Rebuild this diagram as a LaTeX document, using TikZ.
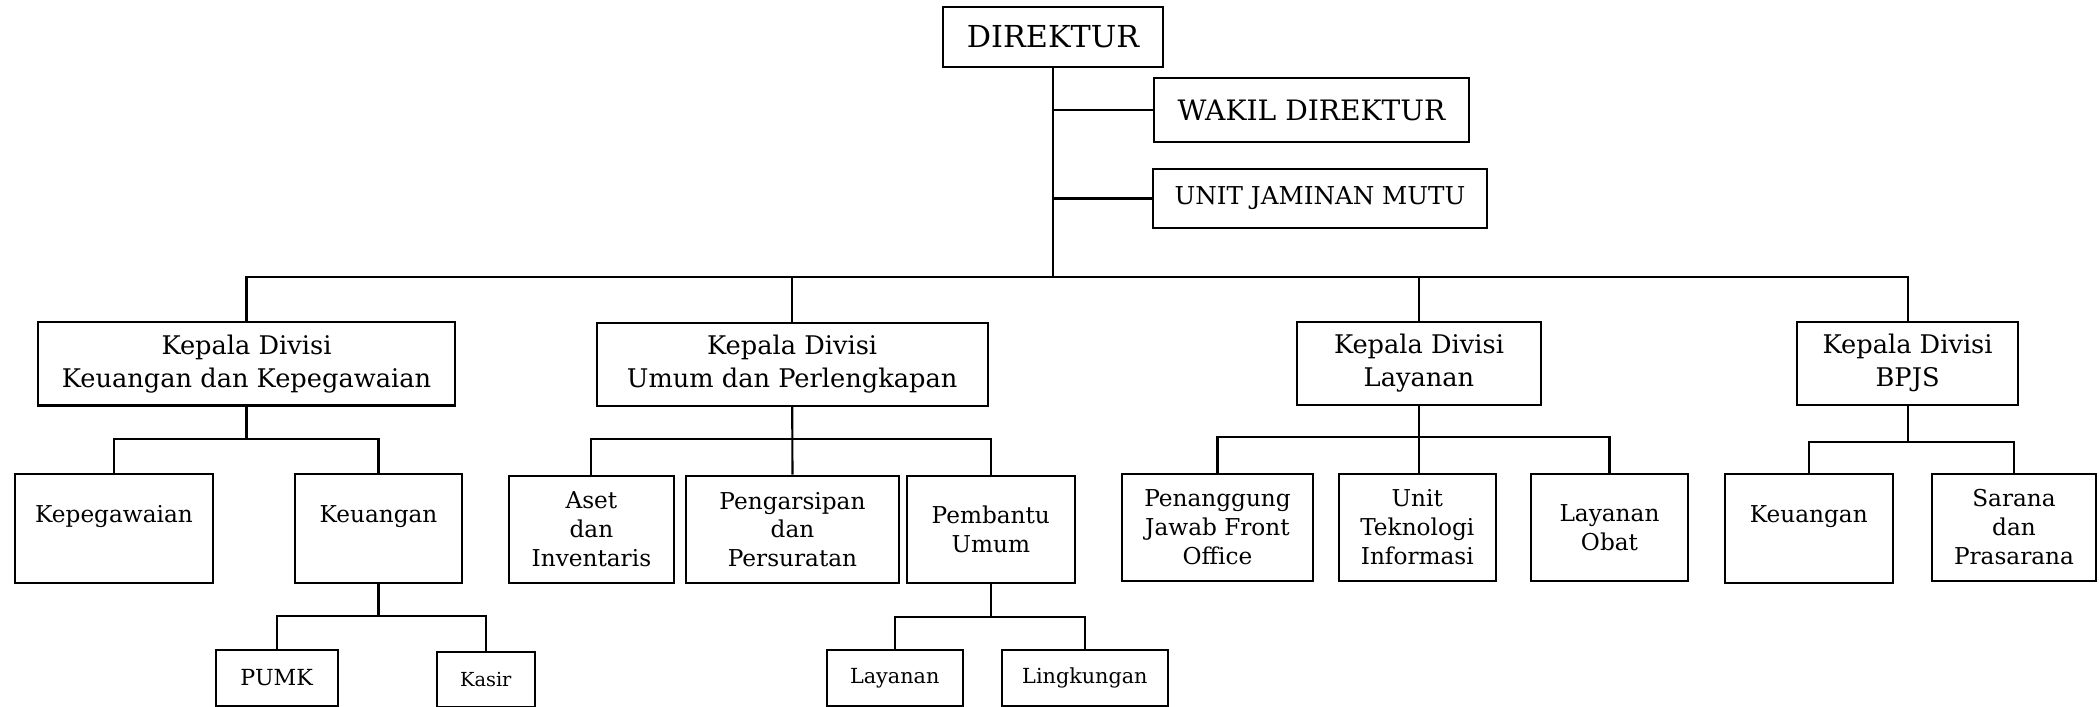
\documentclass[tikz,border=0pt]{standalone}
\usepackage{fontspec}
\setmainfont{DejaVu Serif}
\begin{document}
\begin{tikzpicture}[x=0.01cm,y=-0.01cm,
  box/.style={draw, line width=0.6pt, inner sep=0pt, align=center},
  ftop/.style={font=\fontsize{8.6}{10}\selectfont},
  fwak/.style={font=\fontsize{8.0}{9}\selectfont},
  fsub/.style={font=\fontsize{7.0}{8}\selectfont},
  fdiv/.style={font=\fontsize{7.3}{9.4}\selectfont},
  flev/.style={font=\fontsize{6.6}{8.2}\selectfont},
  fsml/.style={font=\fontsize{5.9}{7}\selectfont},
  conn/.style={line width=0.6pt}]
\useasboundingbox (0,0) rectangle (2099,707);
% top
\node[box,ftop,minimum width=2.20cm,minimum height=0.594cm] (dir) at (1053,37) {DIREKTUR};
\node[box,fwak,minimum width=3.15cm,minimum height=0.64cm] (wakil) at (1311.5,110) {WAKIL DIREKTUR};
\node[box,fsub,minimum width=3.34cm,minimum height=0.59cm] (ujm) at (1320,198.5) {UNIT JAMINAN MUTU};
% divisions
\node[box,fdiv,minimum width=4.17cm,minimum height=0.835cm] (div1) at (246.5,363.7) {Kepala Divisi\\Keuangan dan Kepegawaian};
\node[box,fdiv,minimum width=3.91cm,minimum height=0.833cm] (div2) at (792.2,364.3) {Kepala Divisi\\Umum dan Perlengkapan};
\node[box,fdiv,minimum width=2.44cm,minimum height=0.833cm] (div3) at (1419,363.3) {Kepala Divisi\\Layanan};
\node[box,fdiv,minimum width=2.204cm,minimum height=0.833cm] (div4) at (1907.6,363.3) {Kepala Divisi\\BPJS};
% level 2
\node[box,flev,minimum width=1.98cm,minimum height=1.09cm] (kep) at (114,528.2) {Kepegawaian\\\mbox{}};
\node[box,flev,minimum width=1.67cm,minimum height=1.09cm] (keu) at (378.5,528.5) {Keuangan\\\mbox{}};
\node[box,flev,minimum width=1.647cm,minimum height=1.076cm] (aset) at (591.4,529.5) {Aset\\dan\\Inventaris};
\node[box,flev,minimum width=2.123cm,minimum height=1.076cm] (arsip) at (792.5,529.5) {Pengarsipan\\dan\\Persuratan};
\node[box,flev,minimum width=1.68cm,minimum height=1.076cm] (pemb) at (990.8,529.5) {Pembantu\\Umum};
\node[box,flev,minimum width=1.91cm,minimum height=1.073cm] (pjfo) at (1217.5,527.3) {Penanggung\\Jawab Front\\Office};
\node[box,flev,minimum width=1.574cm,minimum height=1.073cm] (uti) at (1417.3,527.3) {Unit\\Teknologi\\Informasi};
\node[box,flev,minimum width=1.57cm,minimum height=1.073cm] (obat) at (1609.5,527.3) {Layanan\\Obat};
\node[box,flev,minimum width=1.676cm,minimum height=1.093cm] (keu2) at (1808.8,528.3) {Keuangan\\\mbox{}};
\node[box,flev,minimum width=1.64cm,minimum height=1.073cm] (sar) at (2014,527.3) {Sarana\\dan\\Prasarana};
% level 3
\node[box,fsml,font=\fontsize{6.3}{7}\selectfont,minimum width=1.22cm,minimum height=0.56cm] (pumk) at (276.7,678) {PUMK};
\node[box,fsml,font=\fontsize{5.5}{7}\selectfont,minimum width=0.983cm,minimum height=0.558cm] (kasir) at (485.8,679.6) {Kasir};
\node[box,fsml,minimum width=1.36cm,minimum height=0.56cm] (lay) at (894.7,678) {Layanan};
\node[box,fsml,minimum width=1.663cm,minimum height=0.56cm] (ling) at (1084.9,678) {Lingkungan};
% bus coordinates
\coordinate (b0) at (0,277);
\coordinate (b1) at (0,439);
\coordinate (b11) at (0,615.7);
\coordinate (b2) at (0,439.3);
\coordinate (b21) at (0,616.7);
\coordinate (b3) at (0,437.3);
\coordinate (b4) at (0,441.7);
% connectors top
\draw[conn] (dir.south) -- (dir.south |- b0);
\draw[conn] (dir.south |- wakil.west) -- (wakil.west);
\draw[conn] (dir.south |- ujm.west) -- (ujm.west);
\draw[conn] (div1.north) -- (div1.north |- b0) -- (div4.north |- b0) -- (div4.north);
\draw[conn] (div2.north) -- (div2.north |- b0);
\draw[conn] (div3.north) -- (div3.north |- b0);
% division 1
\draw[conn] (div1.south) -- (div1.south |- b1);
\draw[conn] (kep.north) -- (kep.north |- b1) -- (keu.north |- b1) -- (keu.north);
\draw[conn] (keu.south) -- (keu.south |- b11);
\draw[conn] (pumk.north) -- (pumk.north |- b11) -- (kasir.north |- b11) -- (kasir.north);
% division 2
\draw[conn] (div2.south) -- (arsip.north);
\draw[conn] (aset.north) -- (aset.north |- b2) -- (pemb.north |- b2) -- (pemb.north);
\draw[conn] (pemb.south) -- (pemb.south |- b21);
\draw[conn] (lay.north) -- (lay.north |- b21) -- (ling.north |- b21) -- (ling.north);
% division 3
\draw[conn] (div3.south) -- (div3.south |- uti.north);
\draw[conn] (pjfo.north) -- (pjfo.north |- b3) -- (obat.north |- b3) -- (obat.north);
% division 4
\draw[conn] (div4.south) -- (div4.south |- b4);
\draw[conn] (keu2.north) -- (keu2.north |- b4) -- (sar.north |- b4) -- (sar.north);
\end{tikzpicture}
\end{document}
